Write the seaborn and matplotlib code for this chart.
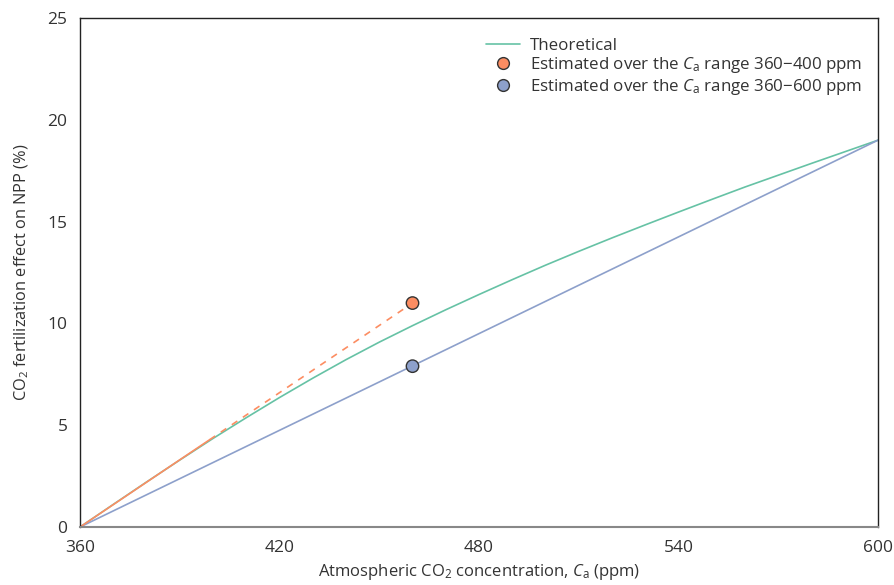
import numpy as np
import pandas as pd
import seaborn as sns
import matplotlib
matplotlib.use('Agg')
import matplotlib.pyplot as plt
from matplotlib.lines import Line2D

# values
ca_theory = [360, 370, 380, 390, 400, 410, 420, 430, 440, 450, 460, 470, 480,
             490, 500, 510, 520, 530, 540, 550, 560, 570, 580, 590, 600]
npp_theory = [0, 1.11, 2.21, 3.29, 4.35, 5.37, 6.36, 7.31, 8.22, 9.08, 9.89, 10.67, 11.42,
              12.15, 12.86, 13.54, 14.20, 14.84, 15.47, 16.09, 16.70, 17.28, 17.86, 18.43, 19.0]

# 360-400 ppm estimate: solid over fit range, dashed extrapolation to the point
ca_short_fit = [360, 399]
npp_short_fit = [0, 4.29]
ca_short_ext = [399, 460]
npp_short_ext = [4.29, 11.0]

# 360-600 ppm estimate
ca_long = [360, 600]
npp_long = [0, 19.0]

ca_points = [460, 460]
npp_points = [11.0, 7.9]
point_labels = ['short', 'long']

sns.set_style('white')
plt.rcParams['font.family'] = ['Open Sans', 'DejaVu Sans']
plt.rcParams['mathtext.fontset'] = 'custom'
plt.rcParams['mathtext.rm'] = 'Open Sans'
plt.rcParams['mathtext.it'] = 'Open Sans:italic'

pal = sns.color_palette('Set2')
green, orange, blue = pal[0], pal[1], pal[2]
txt = '#333333'

fig = plt.figure(figsize=(8.95, 5.85), dpi=100)
ax = fig.add_axes([0.0894, 0.0991, 0.8916, 0.8701])

sns.lineplot(x=ca_theory, y=npp_theory, ax=ax, color=green, lw=1.2)
sns.lineplot(x=ca_long, y=npp_long, ax=ax, color=blue, lw=1.2)
sns.lineplot(x=ca_short_fit, y=npp_short_fit, ax=ax, color=orange, lw=1.2)
ax.plot(ca_short_ext, npp_short_ext, color=orange, lw=1.2, ls=(0, (4, 4)))

pts = pd.DataFrame({'ca': ca_points, 'npp': npp_points, 'which': point_labels})
sns.scatterplot(data=pts, x='ca', y='npp', hue='which', palette=[orange, blue],
                s=80, edgecolor=txt, linewidth=1, ax=ax, legend=False, zorder=5)

ax.set_xlim(360, 600)
ax.set_ylim(0, 25)
ax.set_xticks([360, 420, 480, 540, 600])
ax.set_yticks([0, 5, 10, 15, 20, 25])

ax.tick_params(axis='y', direction='out', length=6, width=1, colors='#222222',
               labelsize=12.5, labelcolor=txt, pad=3)
ax.tick_params(axis='x', direction='in', length=5, width=1, colors='#555555',
               labelsize=12.5, labelcolor=txt, pad=9)

for s in ['left', 'top', 'right']:
    ax.spines[s].set_color('#222222')
    ax.spines[s].set_linewidth(1)
ax.spines['bottom'].set_color('#888888')
ax.spines['bottom'].set_linewidth(1.5)

ax.set_xlabel(r'Atmospheric CO$_2$ concentration, $\it{C}_{\rm a}$ (ppm)',
              fontsize=12, color=txt, labelpad=5)
ax.set_ylabel('CO$_2$ fertilization effect on NPP (%)', fontsize=11.8, color=txt, labelpad=12)

handles = [
    Line2D([], [], color=green, lw=1.2),
    Line2D([], [], color=orange, marker='o', ls='none', markersize=8.5,
           markeredgecolor=txt, markeredgewidth=1),
    Line2D([], [], color=blue, marker='o', ls='none', markersize=8.5,
           markeredgecolor=txt, markeredgewidth=1),
]
labels = ['Theoretical',
          r'Estimated over the $\it{C}_{\rm a}$ range 360$-$400 ppm',
          r'Estimated over the $\it{C}_{\rm a}$ range 360$-$600 ppm']
leg = ax.legend(handles, labels, loc='upper right', bbox_to_anchor=(0.995, 0.985),
                frameon=False, fontsize=12.2, handlelength=2.0, handletextpad=0.6,
                labelspacing=0.1, borderaxespad=0.3)
for t in leg.get_texts():
    t.set_color(txt)

fig.savefig('out.png', dpi=100)
